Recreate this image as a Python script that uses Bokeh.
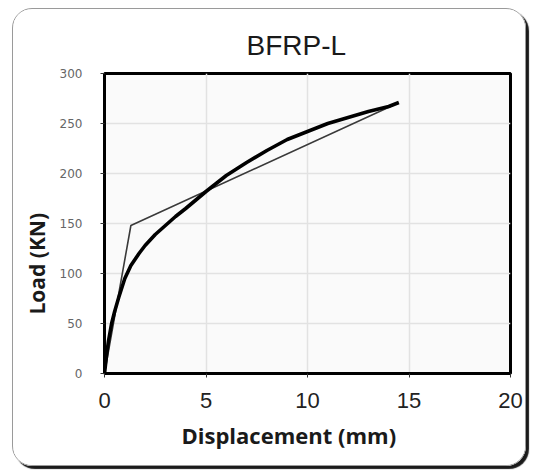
from bokeh.plotting import figure
from bokeh.models import Range1d, FixedTicker, Title
from bokeh.embed import file_html
from bokeh.resources import INLINE

# Data
exp_x = [0, 0.1, 0.2, 0.35, 0.5, 0.7, 1.0, 1.3, 1.7, 2.0, 2.5, 3.0, 3.5, 4.0, 5.0,
         6.0, 7.0, 8.0, 9.0, 10.0, 11.0, 12.0, 13.0, 14.0, 14.5]
exp_y = [0, 18, 33, 50, 62, 76, 95, 108, 120, 128, 139, 148, 157, 165, 182,
         198, 211, 223, 234, 242, 250, 256, 262, 267, 271]
model_x = [0, 1.3, 14.3]
model_y = [0, 148, 269]
x_ticks = [0, 5, 10, 15, 20]
y_ticks = [0, 50, 100, 150, 200, 250, 300]

p = figure(width=514, height=458, output_backend="svg", toolbar_location=None,
           x_range=Range1d(0, 20), y_range=Range1d(0, 300),
           min_border_left=91, min_border_right=17, min_border_top=64, min_border_bottom=94)
p.margin = (8, 0, 0, 12)
p.styles = {"border": "1px solid #9a9a9a", "border-radius": "20px",
            "box-shadow": "3px 3px 1px #1a1a1a", "overflow": "hidden"}

p.background_fill_color = "#fafafa"
p.border_fill_color = "white"
p.outline_line_color = "black"
p.outline_line_width = 3

p.xgrid.ticker = FixedTicker(ticks=x_ticks)
p.ygrid.ticker = FixedTicker(ticks=y_ticks)
p.grid.grid_line_color = "#e2e2e2"
p.grid.grid_line_width = 1.5

p.xaxis.ticker = FixedTicker(ticks=x_ticks)
p.yaxis.ticker = FixedTicker(ticks=y_ticks)
for ax in (p.xaxis[0], p.yaxis[0]):
    ax.axis_line_color = "black"
    ax.axis_line_width = 3
    ax.major_tick_line_color = "#333333"
    ax.major_tick_in = 0
    ax.major_tick_out = 4
    ax.minor_tick_line_color = None

p.xaxis.major_label_text_font = "Liberation Sans"
p.xaxis.major_label_text_font_size = "22px"
p.xaxis.major_label_text_color = "#222222"
p.xaxis.major_label_standoff = 15
p.yaxis.major_label_text_font = "DejaVu Sans"
p.yaxis.major_label_text_font_size = "12px"
p.yaxis.major_label_text_color = "#666666"
p.yaxis.major_label_standoff = 18

p.line(model_x, model_y, line_color="#3a3a3a", line_width=1.6)
p.line(exp_x, exp_y, line_color="black", line_width=3.6, line_join="round")

title = Title(text="BFRP-L", align="left", offset=142, standoff=26,
              text_font="Liberation Sans", text_font_size="28px",
              text_font_style="normal", text_color="#1a1a1a")
p.add_layout(title, "above")
xlab = Title(text="Displacement (mm)", align="left", offset=77, standoff=18,
             vertical_align="top",
             text_font="Open Sans", text_font_style="bold", text_font_size="22px",
             text_color="#1a1a1a")
p.add_layout(xlab, "below")
ylab = Title(text="Load (KN)", align="left", offset=59, standoff=11,
             text_font="Open Sans", text_font_style="bold", text_font_size="21px",
             text_color="#1a1a1a")
p.add_layout(ylab, "left")

open("out.html", "w").write(file_html(p, INLINE))
